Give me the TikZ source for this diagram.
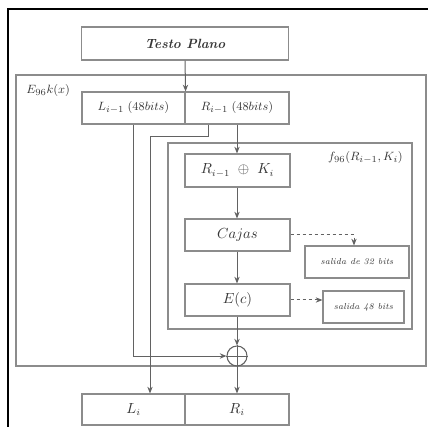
\documentclass[tikz,border=0pt]{standalone}
\usetikzlibrary{arrows.meta}
\definecolor{bord}{HTML}{8C8C8C}
\definecolor{conn}{HTML}{626262}
\definecolor{txt}{HTML}{363636}
\begin{document}
\begin{tikzpicture}[x=0.75pt,y=-0.75pt,
  box/.style={draw=bord,line width=0.9pt,rectangle,inner sep=0pt,text=txt,font=\fontsize{10.5}{12}\selectfont},
  frame/.style={draw=bord,line width=0.9pt,rectangle,inner sep=0pt},
  arr/.style={draw=conn,line width=0.75pt,-{Stealth[length=5pt,width=4pt]}},
  ln/.style={draw=conn,line width=0.75pt},
  darr/.style={draw=conn,line width=0.75pt,dash pattern=on 2.5pt off 2pt,-{Stealth[length=5pt,width=4pt]}},
  lab/.style={text=txt,inner sep=0pt,font=\fontsize{9.5}{11}\selectfont}]
\useasboundingbox (0,0) rectangle (428,427);
\fill[white] (0,0) rectangle (428,427);
% black frame (left and top)
\draw[black,line width=1.6pt] (8,427) -- (8,9) -- (428,9);
% outer E box
\node[frame,minimum width=307.5pt,minimum height=218.25pt] (E) at (221,220.5) {};
\node[lab,anchor=west] (Elab) at (26,91) {$E_{96}k(x)$};
% f box
\node[frame,minimum width=183pt,minimum height=139.5pt] (F) at (290,236) {};
\node[lab,anchor=east] (Flab) at (403,158) {$f_{96}(R_{i-1},K_i)$};
% boxes
\node[box,minimum width=155.25pt,minimum height=24.75pt,font=\fontsize{10}{12}\selectfont\bfseries\itshape] (tp) at (185,43.5) {Testo Plano};
\node[box,minimum width=77.25pt,minimum height=24pt,font=\fontsize{9.5}{11}\selectfont] (Lp) at (133.5,108) {$L_{i-1}\;(48bits)$};
\node[box,minimum width=78pt,minimum height=24pt,font=\fontsize{9.5}{11}\selectfont] (Rp) at (237,108) {$R_{i-1}\;(48bits)$};
\node[box,minimum width=78.75pt,minimum height=24.75pt] (rk) at (237.5,170.5) {$R_{i-1}\ \oplus\ K_i$};
\node[box,minimum width=78.75pt,minimum height=24pt] (cj) at (237.5,235) {$Cajas$};
\node[box,minimum width=78.75pt,minimum height=24pt] (ec) at (237.5,300) {$E(c)$};
\node[box,minimum width=78pt,minimum height=24pt,font=\fontsize{6.5}{8}\selectfont\itshape] (s32) at (357,262) {salida de 32 bits};
\node[box,minimum width=60.75pt,minimum height=24pt,font=\fontsize{6.5}{8}\selectfont\itshape] (s48) at (363.5,307) {salida 48 bits};
\node[box,minimum width=77.25pt,minimum height=23.25pt] (Li) at (133.5,409.5) {$L_i$};
\node[box,minimum width=78pt,minimum height=23.25pt] (Ri) at (237,409.5) {$R_i$};
% xor
\node[draw=conn,line width=0.8pt,circle,minimum size=15pt,inner sep=0pt] (xr) at (237,356) {};
\draw[ln] (xr.north) -- (xr.south) (xr.west) -- (xr.east);
% connectors
\draw[arr] (tp.south) -- (Lp.north east);
\draw[arr] (Lp.south) |- (xr.west);
\coordinate (c1) at (208,137);
\coordinate (c2) at (150,137);
\draw[arr] (Rp.south -| c1) -- (c1) -- (c2) -- (c2 |- Li.north);
\draw[arr] (Rp.south) -- (rk.north -| Rp.south);
\draw[arr] (rk.south -| Rp.south) -- (cj.north -| Rp.south);
\draw[arr] (cj.south -| Rp.south) -- (ec.north -| Rp.south);
\draw[arr] (ec.south -| xr.north) -- (xr.north);
\draw[arr] (xr.south) -- (Ri.north);
\coordinate (c3) at (354,235);
\draw[darr] (cj.east) -- (c3) -- (c3 |- s32.north);
\draw[darr] (ec.east) -- (s48.west |- ec.east);
\end{tikzpicture}
\end{document}
